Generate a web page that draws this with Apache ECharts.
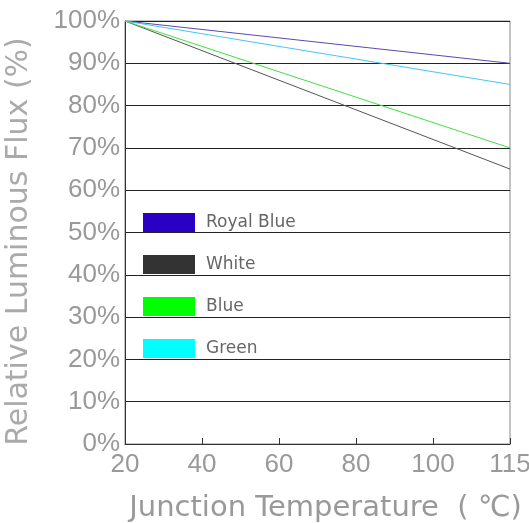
<!DOCTYPE html>
<html><head><meta charset="utf-8">
<script src="https://cdn.jsdelivr.net/npm/echarts@6/dist/echarts.min.js"></script>
<style>html,body{margin:0;padding:0;background:#fff}#c{width:529px;height:523px}</style>
</head><body><div id="c"></div>
<script>
// Data
var categories = ['20', '40', '60', '80', '100', '115'];
var seriesNames = ['Royal Blue', 'White', 'Blue', 'Green'];
var royalBlue = [100, null, null, null, null, 90];
var white = [100, null, null, null, null, 65];
var blue = [100, null, null, null, null, 70];
var green = [100, null, null, null, null, 85];
var yTicks = [0, 10, 20, 30, 40, 50, 60, 70, 80, 90, 100];

var legendColors = ['#2a00c4', '#333333', '#00ff00', '#00ffff'];
var lineColors = ['#5a48b0', '#555555', '#40e040', '#40c8f0'];
var values = [royalBlue, white, blue, green];

var chart = echarts.init(document.getElementById('c'));
var font = 'DejaVu Sans';
var numFont = 'Liberation Sans';
chart.setOption({
  animation: false,
  backgroundColor: '#fff',
  grid: {left: 125, right: 19, top: 21, bottom: 79, show: true, borderColor: '#888', borderWidth: 1,
    containLabel: false, outerBoundsMode: 'none'},
  legend: {
    orient: 'vertical', left: 138, top: 208, itemWidth: 52, itemHeight: 19, itemGap: 23,
    icon: 'rect',
    textStyle: {color: '#666', fontSize: 17, fontFamily: font, padding: [0, 0, 0, 6]},
    data: seriesNames.map(function (n, i) { return {name: n, itemStyle: {color: legendColors[i]}}; })
  },
  xAxis: {
    type: 'category', data: categories, boundaryGap: false,
    name: 'Junction Temperature  ( \u2103)', nameLocation: 'middle', nameGap: 50,
    nameTextStyle: {color: '#999', fontSize: 29, fontFamily: font, padding: [0, 0, 0, 16]},
    axisLine: {lineStyle: {color: '#333', width: 1}},
    axisTick: {inside: true, length: 6, lineStyle: {color: '#333'}},
    axisLabel: {color: '#999', fontSize: 26, fontFamily: numFont, margin: 8},
    splitLine: {show: false}
  },
  yAxis: {
    type: 'value', min: 0, max: 100, interval: 10,
    name: 'Relative Luminous Flux (%)', nameLocation: 'middle', nameGap: 91,
    nameTextStyle: {color: '#aaa', fontSize: 30, fontFamily: font, padding: [0, 18, 0, 0]},
    axisLine: {show: true, lineStyle: {color: '#333'}},
    axisTick: {show: false},
    axisLabel: {color: '#999', fontSize: 26, fontFamily: numFont, margin: 5,
      formatter: function (v) { return yTicks.indexOf(v) >= 0 ? v + '%' : ''; }},
    splitLine: {show: true, lineStyle: {color: '#222', width: 1}}
  },
  series: values.map(function (d, i) {
    return {
      name: seriesNames[i], type: 'line', data: d, connectNulls: true,
      showSymbol: false, symbol: 'none',
      itemStyle: {color: legendColors[i]},
      lineStyle: {color: lineColors[i], width: 1}
    };
  })
});
</script></body></html>
